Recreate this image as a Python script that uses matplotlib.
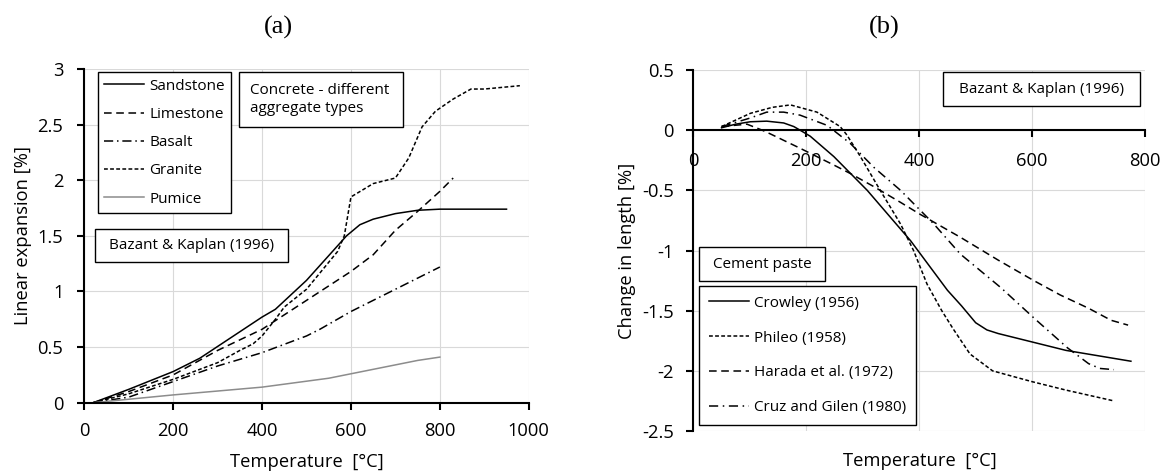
import matplotlib
matplotlib.use("Agg")
import matplotlib.pyplot as plt
import matplotlib.ticker as ticker

plt.rcParams.update({
    "font.family": "Open Sans",
    "axes.linewidth": 1.5,
})

# ── (a) concrete, different aggregate types ──────────────────────────────
sand_t = [20, 100, 200, 260, 400, 430, 500, 590, 620, 650, 700, 750, 800, 950]
sand_e = [0, 0.12, 0.28, 0.40, 0.77, 0.84, 1.10, 1.50, 1.60, 1.65, 1.70, 1.73, 1.74, 1.74]

lime_t = [20, 100, 200, 300, 400, 500, 600, 650, 700, 750, 800, 830]
lime_e = [0, 0.10, 0.25, 0.47, 0.66, 0.92, 1.18, 1.33, 1.55, 1.72, 1.90, 2.02]

basa_t = [20, 100, 200, 300, 400, 500, 530, 600, 700, 750, 800]
basa_e = [0, 0.05, 0.19, 0.33, 0.45, 0.60, 0.66, 0.82, 1.02, 1.12, 1.22]

gran_t = [20, 100, 200, 300, 350, 380, 400, 430, 450, 500, 570, 585, 600, 650,
          700, 730, 760, 790, 830, 870, 900, 980]
gran_e = [0, 0.08, 0.21, 0.36, 0.47, 0.53, 0.60, 0.75, 0.86, 1.02, 1.36, 1.50,
          1.85, 1.97, 2.02, 2.20, 2.48, 2.62, 2.73, 2.82, 2.82, 2.85]

pumi_t = [20, 200, 400, 550, 600, 700, 750, 800]
pumi_e = [0, 0.07, 0.14, 0.22, 0.26, 0.34, 0.38, 0.41]

# ── (b) cement paste ─────────────────────────────────────────────────────
crow_t = [50, 75, 101, 130, 160, 178, 189, 207, 249, 308, 385, 450, 475, 500,
          520, 540, 600, 660, 775]
crow_d = [0.02, 0.05, 0.07, 0.075, 0.06, 0.03, 0.0, -0.05, -0.22, -0.50, -0.92,
          -1.33, -1.46, -1.60, -1.66, -1.69, -1.76, -1.83, -1.92]

phil_t = [50, 101, 140, 172, 219, 260, 272, 296, 331, 367, 390, 414, 440, 460,
          490, 530, 600, 660, 745]
phil_d = [0.03, 0.14, 0.19, 0.21, 0.15, 0.03, -0.04, -0.22, -0.50, -0.78, -1.00,
          -1.28, -1.50, -1.65, -1.86, -2.00, -2.09, -2.16, -2.25]

hara_t = [50, 95, 122, 136, 189, 249, 278, 320, 367, 402, 473, 540, 603, 650,
          700, 740, 770]
hara_d = [0.03, 0.05, 0.0, -0.03, -0.15, -0.29, -0.36, -0.47, -0.60, -0.70,
          -0.89, -1.08, -1.25, -1.37, -1.48, -1.58, -1.62]

cruz_t = [50, 100, 130, 160, 189, 237, 278, 320, 367, 426, 473, 545, 603, 663,
          700, 720, 745]
cruz_d = [0.03, 0.10, 0.15, 0.15, 0.125, 0.04, -0.11, -0.31, -0.50, -0.78,
          -1.03, -1.31, -1.56, -1.81, -1.94, -1.98, -1.99]

LW = 1.1
GRID = "#d9d9d9"
LEG_FS = 11
TICK_FS = 13.2
LAB_FS = 13.2

fig = plt.figure(figsize=(11.69, 4.75), dpi=100)
axa = fig.add_axes([0.0721, 0.1522, 0.3802, 0.7025])
axb = fig.add_axes([0.5931, 0.0926, 0.3864, 0.7600])

fmt = ticker.FuncFormatter(lambda v, _: f"{v:g}")


def box(ax, x0, y0, x1, y1, text, tx=None, fs=LEG_FS):
    ax.add_patch(plt.Rectangle((x0, y0), x1 - x0, y1 - y0, transform=ax.transAxes,
                               facecolor="white", edgecolor="black", lw=1.0,
                               zorder=5, clip_on=False))
    if tx is None:
        ax.text((x0 + x1) / 2, (y0 + y1) / 2, text, transform=ax.transAxes,
                ha="center", va="center", fontsize=fs, zorder=6)
    else:
        ax.text(tx, (y0 + y1) / 2, text, transform=ax.transAxes,
                ha="left", va="center", fontsize=fs, zorder=6, linespacing=1.25)


for ax in (axa, axb):
    ax.grid(True, color=GRID, lw=0.8)
    ax.set_axisbelow(True)
    for s in ("top", "right"):
        ax.spines[s].set_visible(False)
    ax.tick_params(direction="out", length=5, width=1.5, labelsize=TICK_FS)
    ax.yaxis.set_major_formatter(fmt)
    ax.xaxis.set_major_formatter(fmt)

# panel (a)
axa.plot(sand_t, sand_e, color="black", lw=LW, label="Sandstone")
axa.plot(lime_t, lime_e, color="black", lw=LW, dashes=(5, 3), label="Limestone")
axa.plot(basa_t, basa_e, color="black", lw=LW, dashes=(6, 2.5, 1, 2.5), label="Basalt")
axa.plot(gran_t, gran_e, color="black", lw=LW, dashes=(2.5, 1.5), label="Granite")
axa.plot(pumi_t, pumi_e, color="#8c8c8c", lw=LW, label="Pumice")
axa.set_xlim(0, 1000)
axa.set_ylim(0, 3)
axa.set_xticks(range(0, 1001, 200))
axa.set_yticks([0, 0.5, 1, 1.5, 2, 2.5, 3])
axa.tick_params(axis="y", pad=10)
axa.tick_params(axis="x", pad=9)
axa.set_xlabel("Temperature  [°C]", fontsize=LAB_FS, labelpad=9)
axa.set_ylabel("Linear expansion [%]", fontsize=LAB_FS, labelpad=4)

leg = axa.legend(loc="upper left", bbox_to_anchor=(0.030, 0.991), borderaxespad=0,
                 fontsize=LEG_FS, handlelength=2.6, handletextpad=0.35,
                 labelspacing=0.87, borderpad=0.43, fancybox=False, framealpha=1,
                 edgecolor="black")
leg.get_frame().set_linewidth(1.0)
box(axa, 0.348, 0.826, 0.717, 0.991, "Concrete - different\naggregate types", tx=0.373)
box(axa, 0.024, 0.421, 0.458, 0.5205, "Bazant & Kaplan (1996)")

# panel (b)
axb.plot(crow_t, crow_d, color="black", lw=LW, label="Crowley (1956)")
axb.plot(phil_t, phil_d, color="black", lw=LW, dashes=(2.5, 1.5), label="Phileo (1958)")
axb.plot(hara_t, hara_d, color="black", lw=LW, dashes=(5, 3), label="Harada et al. (1972)")
axb.plot(cruz_t, cruz_d, color="black", lw=LW, dashes=(6, 3, 1, 3), label="Cruz and Gilen (1980)")
axb.set_xlim(0, 800)
axb.set_ylim(-2.5, 0.5)
axb.set_xticks(range(0, 801, 200))
axb.set_yticks([-2.5, -2, -1.5, -1, -0.5, 0, 0.5])
axb.spines["bottom"].set_position(("data", 0))
axb.tick_params(axis="y", pad=9)
axb.tick_params(axis="x", pad=11)
axb.set_ylabel("Change in length [%]", fontsize=LAB_FS, labelpad=4)
fig.text(0.7866, 0.030, "Temperature  [°C]", fontsize=LAB_FS, ha="center", va="center")

legb = axb.legend(loc="upper left", bbox_to_anchor=(0.0126, 0.4025), borderaxespad=0,
                  fontsize=LEG_FS, handlelength=2.6, handletextpad=0.35,
                  labelspacing=1.3, borderpad=0.65, fancybox=False, framealpha=1,
                  edgecolor="black")
legb.get_frame().set_linewidth(1.0)
box(axb, 0.0126, 0.4155, 0.291, 0.5097, "Cement paste")
box(axb, 0.553, 0.900, 0.989, 0.9945, "Bazant & Kaplan (1996)")

fig.text(0.238, 0.943, "(a)", family="Liberation Serif", fontsize=19, ha="center", va="center")
fig.text(0.756, 0.943, "(b)", family="Liberation Serif", fontsize=19, ha="center", va="center")

fig.savefig("out.png", dpi=100)
